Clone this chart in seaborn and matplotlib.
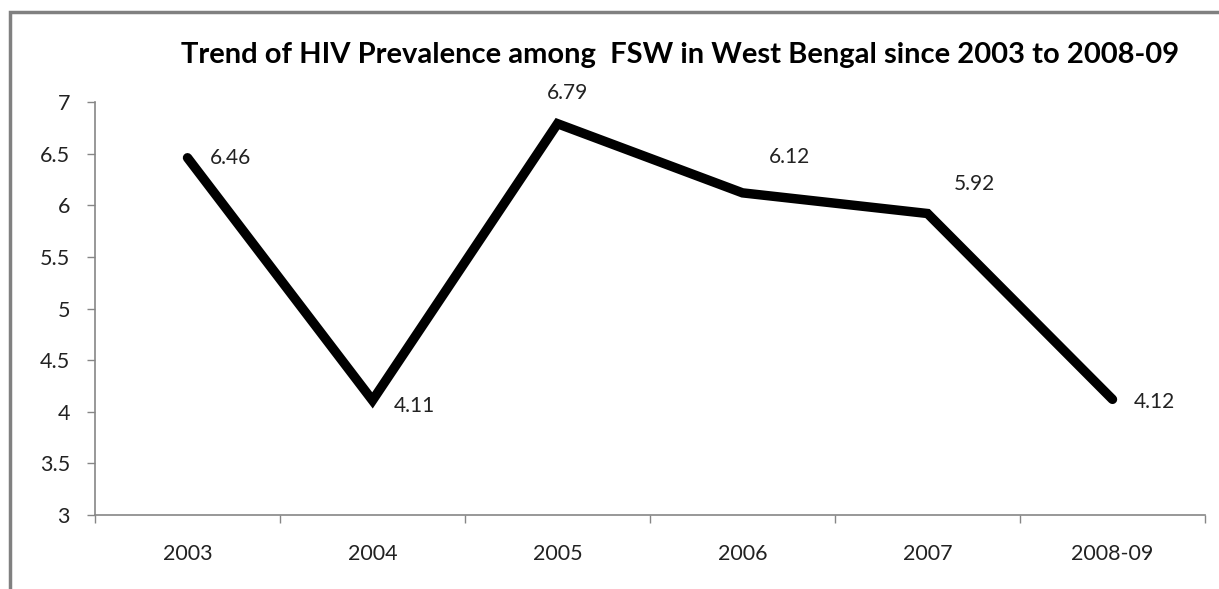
import numpy as np
import pandas as pd
import matplotlib.pyplot as plt
import seaborn as sns
from matplotlib.patches import Rectangle
from matplotlib.ticker import FixedLocator

years = ['2003', '2004', '2005', '2006', '2007', '2008-09']
prevalence = [6.46, 4.11, 6.79, 6.12, 5.92, 4.12]

# label offsets (points) relative to each point
label_offsets = [(16, 0), (15, -4), (7, 22), (19, 26), (19, 21), (15, -2)]

sns.set_theme(style='white')
plt.rcParams['font.family'] = ['Lato', 'DejaVu Sans']

df = pd.DataFrame({'year': years, 'value': prevalence})

fig = plt.figure(figsize=(12.19, 5.89), dpi=100)
ax = fig.add_axes([95 / 1219, 1 - 515 / 589, 1110 / 1219, 413 / 589])

sns.lineplot(data=df, x='year', y='value', sort=False, color='black',
             linewidth=6.8, ax=ax, solid_capstyle='round', solid_joinstyle='miter')

for i, (v, off) in enumerate(zip(prevalence, label_offsets)):
    ax.annotate(f'{v:.2f}', (i, v), xytext=off, textcoords='offset points',
                ha='left' if off[0] > 10 else 'center', va='center',
                fontsize=15, color='#222222')

ax.set_ylim(3, 7)
ax.set_xlim(-0.5, len(years) - 0.5)
ax.set_yticks(np.arange(3, 7.01, 0.5))
ax.set_yticklabels(['3', '3.5', '4', '4.5', '5', '5.5', '6', '6.5', '7'])
ax.xaxis.set_minor_locator(FixedLocator(np.arange(-0.5, len(years), 1)))
ax.tick_params(axis='x', which='major', length=0, pad=21, labelsize=15.5, labelcolor='#222222')
ax.tick_params(axis='x', which='minor', bottom=True, length=6, width=1, color='#868686', direction='out')
ax.tick_params(axis='y', left=True, length=6, width=1, color='#868686', direction='out',
               pad=12, labelsize=15.5, labelcolor='#222222')
ax.set_xlabel('')
ax.set_ylabel('')
for side in ['top', 'right']:
    ax.spines[side].set_visible(False)
for side in ['left', 'bottom']:
    ax.spines[side].set_color('#868686')
    ax.spines[side].set_linewidth(1.2)

fig.text(680 / 1219, 1 - 55 / 589,
         'Trend of HIV Prevalence among  FSW in West Bengal since 2003 to 2008-09',
         ha='center', va='center', fontsize=21, fontweight='bold', color='black')

# grey frame at left and top
fig.patches.append(Rectangle((10 / 1219, -0.05), 1.1, 1 - 12 / 589 + 0.05,
                             transform=fig.transFigure, fill=False,
                             edgecolor='#808080', linewidth=2.5))

fig.savefig('out.png', dpi=100)
